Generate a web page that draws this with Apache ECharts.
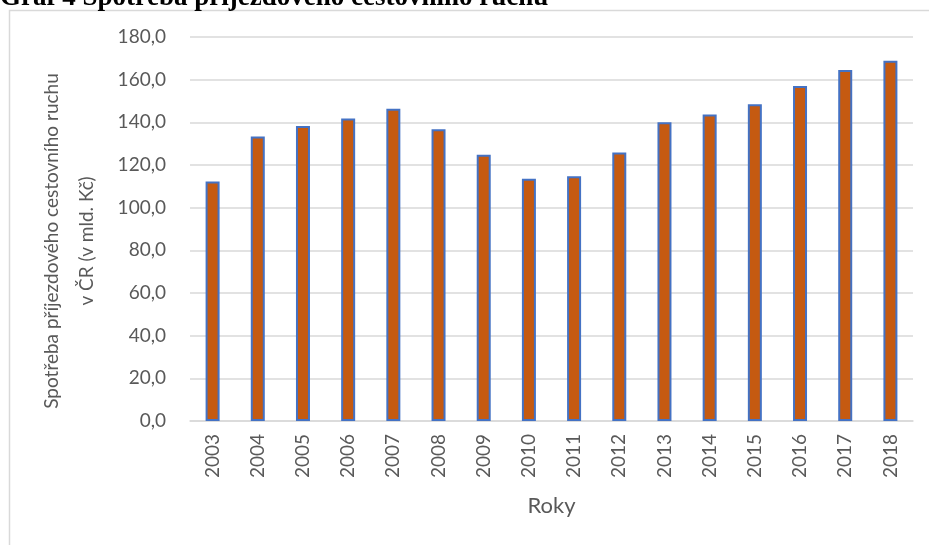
<!DOCTYPE html>
<html>
<head>
<meta charset="utf-8">
<script src="https://cdn.jsdelivr.net/npm/echarts@6/dist/echarts.min.js"></script>
<style>
  html, body { margin: 0; padding: 0; background: #fff; }
  #chart { width: 929px; height: 545px; }
</style>
</head>
<body>
<div id="chart"></div>
<script>
const years = ['2003', '2004', '2005', '2006', '2007', '2008', '2009', '2010',
  '2011', '2012', '2013', '2014', '2015', '2016', '2017', '2018'];
const spending = [112.3, 133.4, 138.3, 141.8, 146.4, 136.7, 124.8, 113.6,
  114.7, 125.9, 140.0, 143.7, 148.5, 157.0, 164.5, 168.9];
const chartTitle = 'Graf 4 Spotřeba příjezdového cestovního ruchu';
const yTitle = 'Spotřeba příjezdového cestovního ruchu\nv ČR (v mld. Kč)';
const xTitle = 'Roky';

const chart = echarts.init(document.getElementById('chart'));
const labelFont = 'Lato, "Noto Sans", sans-serif';

chart.setOption({
  backgroundColor: '#ffffff',
  animation: false,
  grid: {
    left: 190,
    right: 16,
    top: 37,
    bottom: 124
  },
  graphic: [
    {
      type: 'rect',
      shape: { x: 9.5, y: 10.5, width: 940, height: 600 },
      style: { fill: 'none', stroke: '#d9d9d9', lineWidth: 1.5 },
      z: -1
    },
    {
      // title is cut off at the top edge in the original
      type: 'text',
      x: 0,
      y: -2,
      style: {
        text: chartTitle,
        font: 'bold 27px "Liberation Serif", "Times New Roman", serif',
        fill: '#000000',
        verticalAlign: 'middle'
      }
    }
  ],
  xAxis: {
    type: 'category',
    data: years,
    name: xTitle,
    nameLocation: 'middle',
    nameGap: 74,
    nameTextStyle: { color: '#595959', fontSize: 22, fontFamily: labelFont },
    axisTick: { show: false },
    axisLine: { lineStyle: { color: '#d9d9d9', width: 1.5 } },
    axisLabel: {
      color: '#595959',
      fontSize: 19,
      fontFamily: labelFont,
      rotate: 90,
      interval: 0,
      margin: 13
    }
  },
  yAxis: {
    type: 'value',
    min: 0,
    max: 180,
    interval: 20,
    name: yTitle,
    nameLocation: 'middle',
    nameRotate: 90,
    nameGap: 86,
    nameTextStyle: {
      color: '#595959',
      fontSize: 19,
      fontFamily: labelFont,
      lineHeight: 35,
      padding: [0, 24, 0, 0]
    },
    axisLine: { show: false },
    axisTick: { show: false },
    axisLabel: {
      color: '#595959',
      fontSize: 19,
      fontFamily: labelFont,
      margin: 24,
      formatter: (v) => v.toFixed(1).replace('.', ',')
    },
    splitLine: { lineStyle: { color: '#d9d9d9', width: 1.5 } }
  },
  series: [
    {
      type: 'bar',
      data: spending,
      barWidth: 14,
      itemStyle: {
        color: '#c55a11',
        borderColor: '#4472c4',
        borderWidth: 2
      }
    }
  ]
});
</script>
</body>
</html>
